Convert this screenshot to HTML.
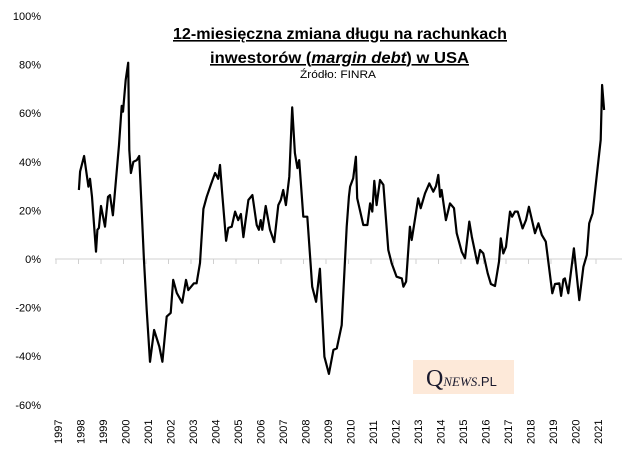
<!DOCTYPE html>
<html><head><meta charset="utf-8"><style>
html,body{margin:0;padding:0;background:#fff;}
svg{display:block;font-family:"Liberation Sans",sans-serif;}
</style></head><body>
<svg id="chart" width="635" height="454" viewBox="0 0 635 454">
<rect width="635" height="454" fill="#fff"/>
<text x="340" y="39" text-anchor="middle" font-size="16" font-weight="bold" text-decoration="underline" textLength="334" lengthAdjust="spacingAndGlyphs">12-miesięczna zmiana długu na rachunkach</text>
<text x="339.5" y="63" text-anchor="middle" font-size="16" font-weight="bold" text-decoration="underline" textLength="259" lengthAdjust="spacingAndGlyphs">inwestorów (<tspan font-style="italic">margin debt</tspan>) w USA</text>
<text x="338" y="78" text-anchor="middle" font-size="11" textLength="76" lengthAdjust="spacingAndGlyphs">Źródło: FINRA</text>
<g id="yaxis"></g>
<g id="xaxis"></g>
<g id="series"></g>
<g>
<rect x="413" y="360" width="101" height="34" fill="#fde9d9"/>
<text x="426" y="386" fill="#1a1a2e"><tspan font-family="Liberation Serif,serif" font-size="24">Q</tspan><tspan font-family="Liberation Serif,serif" font-style="italic" font-size="13">NEWS</tspan><tspan font-size="13">.PL</tspan></text>
</g>
</svg>
<script>
const yTicks = [100, 80, 60, 40, 20, 0, -20, -40, -60];
const yearLabels = [1997,1998,1999,2000,2001,2002,2003,2004,2005,2006,2007,2008,2009,2010,2011,2012,2013,2014,2015,2016,2017,2018,2019,2020,2021];
const dates = [1997.93,1997.98,1998.16,1998.35,1998.42,1998.51,1998.69,1998.75,1998.82,1998.91,1999.09,1999.22,1999.31,1999.44,1999.71,1999.83,1999.89,2000.01,2000.12,2000.17,2000.24,2000.35,2000.50,2000.61,2000.72,2000.82,2000.94,2001.09,2001.27,2001.50,2001.64,2001.83,2002.01,2002.12,2002.28,2002.52,2002.69,2002.79,2003.04,2003.16,2003.31,2003.46,2003.61,2003.79,2003.98,2004.12,2004.20,2004.30,2004.47,2004.57,2004.72,2004.87,2005.01,2005.13,2005.24,2005.32,2005.46,2005.64,2005.83,2005.93,2006.01,2006.08,2006.23,2006.42,2006.61,2006.79,2006.90,2007.01,2007.13,2007.28,2007.41,2007.53,2007.64,2007.72,2007.90,2008.08,2008.30,2008.47,2008.64,2008.84,2009.04,2009.24,2009.39,2009.61,2009.83,2009.93,2009.98,2010.12,2010.24,2010.30,2010.57,2010.75,2010.87,2010.97,2011.06,2011.16,2011.31,2011.46,2011.68,2011.83,2012.05,2012.28,2012.35,2012.47,2012.64,2012.72,2012.87,2013.01,2013.12,2013.31,2013.50,2013.68,2013.80,2013.90,2013.98,2014.05,2014.24,2014.42,2014.60,2014.72,2014.94,2015.09,2015.28,2015.39,2015.64,2015.76,2015.90,2016.10,2016.24,2016.42,2016.60,2016.68,2016.79,2016.91,2017.09,2017.18,2017.31,2017.43,2017.65,2017.80,2017.93,2018.20,2018.35,2018.50,2018.68,2018.97,2019.09,2019.28,2019.36,2019.46,2019.53,2019.68,2019.93,2020.17,2020.35,2020.50,2020.61,2020.76,2021.12,2021.18,2021.27];
const values = [28.4,36,42.4,29.8,33,25.6,3,12,12.8,21.8,13.3,25.6,26.3,18,46.9,63,60.6,73.7,80.8,44.9,35.4,40,40.7,42.4,20,0,-21,-42.3,-29.2,-36,-42.3,-23.7,-22.2,-8.6,-14,-18,-8.6,-12.8,-10,-10,-1.6,20.6,25.6,30.5,35.4,33,38.7,27,7.5,12.8,13.3,19.5,16,18.5,9,14.7,24.3,26.3,14,12,16,12,21.8,12,7,22.2,24.3,28.4,22.2,33.9,62.4,43.6,37.4,40.7,17.4,17.4,-11.4,-17.6,-4,-40.2,-47.3,-37.4,-36.8,-27.2,13.3,25.6,29.8,33.2,42.1,25,14,14,22.9,19.5,32.2,22.2,32.5,30.5,3.7,-1.8,-7.3,-8,-11.4,-9.3,13.3,7.8,16.7,25,20.9,27,31.1,27.7,30,34.6,25.6,28.4,16,22.9,20.9,10.6,3,0.3,15.4,9.2,-1.8,3.7,2.3,-5.9,-10.3,-11.1,-1.1,8.5,2.3,5,19.5,17.4,19.5,19.5,12.6,16,21.5,10.6,14.7,9.9,7.1,-14.1,-10.3,-10,-15.2,-8.4,-8,-14.1,4.4,-16.9,-3.2,1.6,14.7,18.8,49,71.6,61.3];

const NS = 'http://www.w3.org/2000/svg';
const xOf = yr => 58 + (yr - 1997) * 22.5;
const yOf = v => 259 - v * 2.43;
const yaxis = document.getElementById('yaxis');
const xaxis = document.getElementById('xaxis');
const series = document.getElementById('series');

yTicks.forEach(t => {
  const tx = document.createElementNS(NS, 'text');
  tx.setAttribute('x', 41);
  tx.setAttribute('y', yOf(t) + 4);
  tx.setAttribute('text-anchor', 'end');
  tx.setAttribute('font-size', '11');
  tx.textContent = t + '%';
  
  
  yaxis.appendChild(tx);
});

const zl = document.createElementNS(NS, 'line');
zl.setAttribute('x1', 55); zl.setAttribute('x2', 622);
zl.setAttribute('y1', yOf(0)); zl.setAttribute('y2', yOf(0));
zl.setAttribute('stroke', '#d0d0d0'); zl.setAttribute('stroke-width', '1');


xaxis.appendChild(zl);

yearLabels.forEach(yr => {
  const x = xOf(yr);
  const tk = document.createElementNS(NS, 'line');
  tk.setAttribute('x1', x - 2); tk.setAttribute('x2', x - 2);
  tk.setAttribute('y1', yOf(0)); tk.setAttribute('y2', yOf(0) + 5);
  tk.setAttribute('stroke', '#d0d0d0');
  
  
  xaxis.appendChild(tk);
  const tx = document.createElementNS(NS, 'text');
  tx.setAttribute('transform', 'translate(' + (x + 4) + ',444) rotate(-90)');
  tx.setAttribute('font-size', '11');
  tx.textContent = yr;
  
  
  xaxis.appendChild(tx);
});

const pts = dates.map((d, i) => xOf(d).toFixed(1) + ',' + yOf(values[i]).toFixed(1)).join(' ');
const pl = document.createElementNS(NS, 'polyline');
pl.setAttribute('points', pts);
pl.setAttribute('fill', 'none');
pl.setAttribute('stroke', '#000');
pl.setAttribute('stroke-width', '2.2');
pl.setAttribute('stroke-linejoin', 'round');


series.appendChild(pl);
</script>
</body></html>
